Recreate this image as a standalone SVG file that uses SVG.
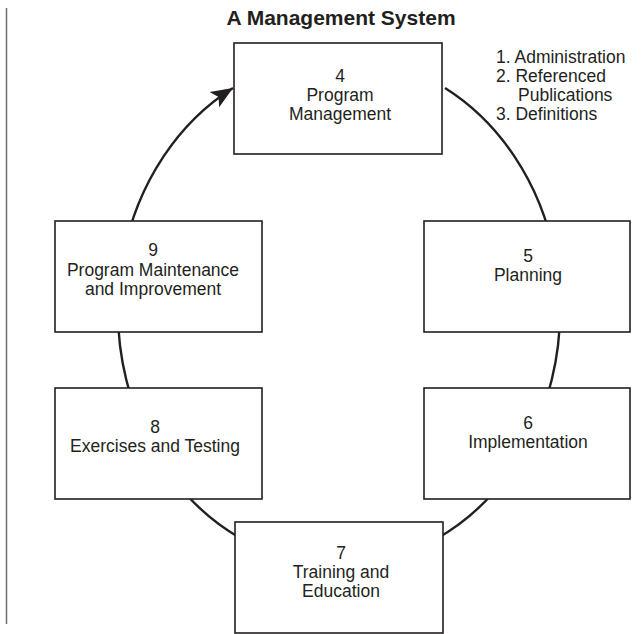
<svg xmlns="http://www.w3.org/2000/svg" width="641" height="634" viewBox="0 0 641 634">
<style>
.box{fill:#fff;stroke:#231f20;stroke-width:1.6}
.t{font-family:"Liberation Sans",Arial,sans-serif;font-size:17.5px;fill:#231f20;text-anchor:middle}
.l{font-family:"Liberation Sans",Arial,sans-serif;font-size:17.5px;fill:#231f20}
.title{font-family:"Liberation Sans",Arial,sans-serif;font-size:21px;font-weight:bold;fill:#231f20;text-anchor:middle}
.arc{fill:none;stroke:#231f20;stroke-width:2.4}
</style>
<defs>
<marker id="ah" markerUnits="userSpaceOnUse" markerWidth="24" markerHeight="20" refX="22" refY="9" orient="auto" viewBox="0 0 24 18">
<path d="M0,0 L22,9 L0,18 L5,9 Z" fill="#231f20"/>
</marker>
</defs>
<rect width="641" height="634" fill="#fff"/>
<line x1="6.5" y1="8" x2="6.5" y2="624" stroke="#6d6d6d" stroke-width="1.5"/>
<text class="title" x="341" y="25">A Management System</text>
<g id="connectors">
<path class="arc" d="M 445,88 A 221 254 0 1 1 233,88" marker-end="url(#ah)"/>
</g>
<g id="n4">
<rect class="box" x="234" y="43" width="208" height="111"/>
<text class="t" x="340" y="82">4</text>
<text class="t" x="340" y="101">Program</text>
<text class="t" x="340" y="120">Management</text>
</g>
<g id="refs">
<text class="l" x="496" y="63">1. Administration</text>
<text class="l" x="496" y="82">2. Referenced</text>
<text class="l" x="518" y="101">Publications</text>
<text class="l" x="496" y="120">3. Definitions</text>
</g>
<g id="n5">
<rect class="box" x="424" y="221" width="206" height="111"/>
<text class="t" x="528" y="262">5</text>
<text class="t" x="528" y="281">Planning</text>
</g>
<g id="n6">
<rect class="box" x="424" y="388" width="206" height="111"/>
<text class="t" x="528" y="429">6</text>
<text class="t" x="528" y="448">Implementation</text>
</g>
<g id="n7">
<rect class="box" x="235" y="522" width="208" height="111"/>
<text class="t" x="341" y="559">7</text>
<text class="t" x="341" y="578">Training and</text>
<text class="t" x="341" y="597">Education</text>
</g>
<g id="n8">
<rect class="box" x="55" y="388" width="207" height="111"/>
<text class="t" x="155" y="433">8</text>
<text class="t" x="155" y="452">Exercises and Testing</text>
</g>
<g id="n9">
<rect class="box" x="55" y="221" width="207" height="111"/>
<text class="t" x="153" y="256">9</text>
<text class="t" x="153" y="275.5">Program Maintenance</text>
<text class="t" x="153" y="295">and Improvement</text>
</g>
</svg>
